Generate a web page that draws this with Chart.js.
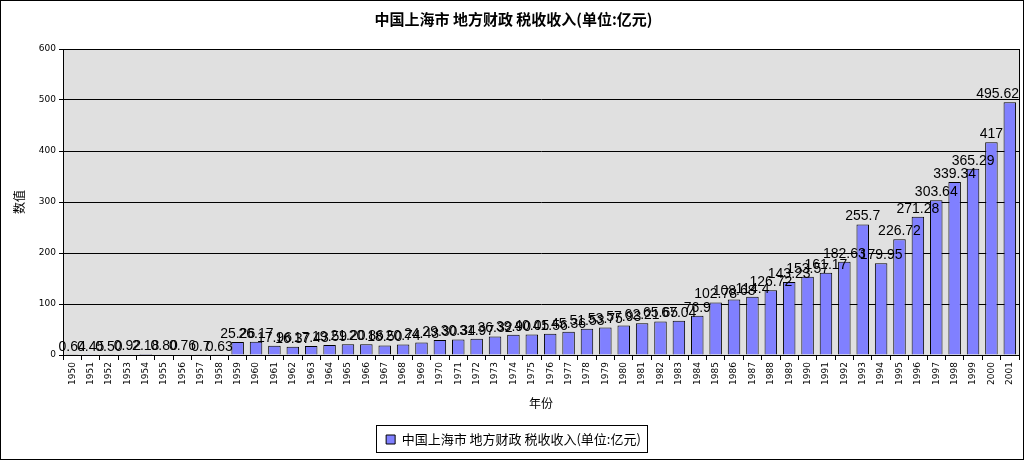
<!DOCTYPE html>
<html>
<head>
<meta charset="utf-8">
<script src="https://cdn.jsdelivr.net/npm/chart.js@4/dist/chart.umd.min.js"></script>
<style>
  html, body { margin: 0; padding: 0; background: #fff; }
  #c { display: block; }
</style>
</head>
<body>
<canvas id="c" width="1024" height="460"></canvas>
<script>
// data
var years = [];
for (var y = 1950; y <= 2001; y++) years.push(String(y));

// kept as text so the labels show the trailing zeros like the original
var taxText = [
  '0.64', '0.45', '0.50', '0.92', '2.18', '0.80', '0.76', '0.7', '0.63',              // 1950-1958
  '25.26', '26.17', '17.96', '16.37', '17.43', '19.59', '21.20', '20.86', '18.50', '20.74', // 1959-1968
  '24.43', '29.30', '30.34', '31.97', '36.32', '39.90', '40.05', '41.56', '45.36', '51.53', // 1969-1978
  '53.75', '57.93', '62.21', '65.65', '67.04', '76.9', '102.78', '108.68', '114.4', '126.72', // 1979-1988
  '143.23', '153.57', '161.17', '182.63', '255.7', '179.95', '226.72', '271.28', '303.64', '339.34', // 1989-1998
  '365.29', '417', '495.62'                                                           // 1999-2001
];
var taxIncome = taxText.map(Number);

var yTicks = [0, 100, 200, 300, 400, 500, 600];
var seriesName = '中国上海市 地方财政 税收收入(单位:亿元)';

var barColor = '#8080FF';
var plotBg = '#E0E0E0';

var frame = {
  id: 'frame',
  beforeDraw: function (chart) {
    var a = chart.chartArea;
    var c = chart.ctx;
    c.save();
    c.fillStyle = '#fff';
    c.fillRect(0, 0, chart.width, chart.height);
    c.fillStyle = plotBg;
    c.fillRect(a.left, a.top, a.right - a.left, a.bottom - a.top);
    c.restore();
  },
  afterDatasetsDraw: function (chart) {
    var c = chart.ctx;
    var a = chart.chartArea;
    var meta = chart.getDatasetMeta(0);
    c.save();
    c.font = '14px "Liberation Sans", Arial, sans-serif';
    c.fillStyle = '#000';
    c.textAlign = 'center';
    c.textBaseline = 'bottom';
    meta.data.forEach(function (bar, i) {
      var w = c.measureText(taxText[i]).width;
      var x = Math.min(bar.x, a.right - w / 2);
      c.fillText(taxText[i], x, bar.y - 1);
    });
    c.restore();
  },
  afterDraw: function (chart) {
    var a = chart.chartArea;
    var c = chart.ctx;
    c.save();
    c.strokeStyle = '#000';
    c.lineWidth = 1;
    c.strokeRect(Math.round(a.left) + 0.5, Math.round(a.top) + 0.5,
      Math.round(a.right - a.left), Math.round(a.bottom - a.top));
    c.strokeRect(0.5, 0.5, chart.width - 1, chart.height - 1);
    // box round the legend
    var hb = chart.legend.legendHitBoxes[0];
    if (hb) {
      c.strokeRect(Math.round(hb.left) - 9.5, Math.round(hb.top) - 7.5,
        Math.round(hb.width) + 16, Math.round(hb.height) + 14);
    }
    c.restore();
  }
};

var ctx = document.getElementById('c').getContext('2d');
var chart = new Chart(ctx, {
  type: 'bar',
  data: {
    labels: years,
    datasets: [{
      label: seriesName,
      data: taxIncome,
      backgroundColor: barColor,
      borderColor: '#000',
      borderWidth: 1,
      barPercentage: 0.68,
      categoryPercentage: 1.0
    }]
  },
  options: {
    responsive: false,
    animation: false,
    devicePixelRatio: 1,
    layout: { padding: { left: 8, right: 5, top: 0, bottom: 4 } },
    plugins: {
      title: {
        display: true,
        text: seriesName,
        color: '#000',
        font: { family: '"Noto Sans CJK SC", sans-serif', size: 15, weight: 'bold' },
        padding: { top: 10, bottom: 21 }
      },
      legend: {
        position: 'bottom',
        labels: {
          color: '#000',
          font: { family: '"Noto Sans CJK SC", sans-serif', size: 13 },
          boxWidth: 9,
          boxHeight: 9,
          padding: 8,
          generateLabels: function (chart) {
            return [{
              text: seriesName,
              fillStyle: barColor,
              strokeStyle: '#000',
              lineWidth: 1,
              datasetIndex: 0
            }];
          }
        }
      },
      tooltip: { enabled: false }
    },
    scales: {
      x: {
        grid: {
          display: true,
          offset: true,
          drawOnChartArea: false,
          color: '#000',
          tickLength: 5
        },
        border: { color: '#000' },
        ticks: {
          color: '#000',
          autoSkip: false,
          minRotation: 90,
          maxRotation: 90,
          padding: 2,
          font: { family: '"DejaVu Sans", sans-serif', size: 9 }
        },
        title: {
          display: true,
          text: '年份',
          color: '#000',
          font: { family: '"Noto Sans CJK SC", sans-serif', size: 12 },
          padding: { top: 4, bottom: 14 }
        },
        afterFit: function (scale) { scale.height = 70; }
      },
      y: {
        min: 0,
        max: 600,
        afterBuildTicks: function (scale) {
          scale.ticks = yTicks.map(function (v) { return { value: v }; });
        },
        grid: {
          color: '#000',
          tickLength: 4
        },
        border: { color: '#000' },
        ticks: {
          color: '#000',
          padding: 3,
          font: { family: '"DejaVu Sans", sans-serif', size: 9 }
        },
        title: {
          display: true,
          text: '数值',
          color: '#000',
          font: { family: '"Noto Sans CJK SC", sans-serif', size: 12 },
          padding: { top: 4, bottom: 4 }
        },
        afterFit: function (scale) { scale.width = 55; }
      }
    }
  },
  plugins: [frame]
});
</script>
</body>
</html>
